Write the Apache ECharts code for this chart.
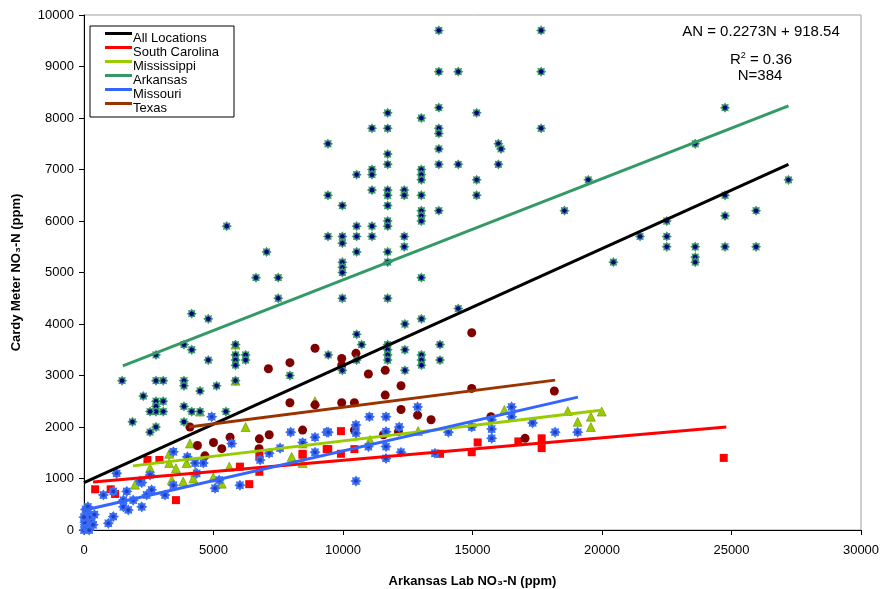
<!DOCTYPE html>
<html>
<head>
<meta charset="utf-8">
<script src="https://cdn.jsdelivr.net/npm/echarts@6/dist/echarts.min.js"></script>
<style>
  html, body { margin: 0; padding: 0; background: #fff; }
  #main { width: 883px; height: 589px; }
</style>
</head>
<body>
<div id="main"></div>
<script type="text/javascript">
    // observed points, [lab NO3-N, cardy NO3-N]
    var arkansasPts = [
        [13700, 9700], [13700, 8900], [14450, 8900], [13700, 8200], [15160, 8100], [11725, 8100],
        [11120, 7800], [11725, 7800], [13025, 8000], [9420, 7500], [13700, 7800], [13700, 7700],
        [11725, 7300], [13700, 7400], [11725, 7100], [13700, 7100], [14450, 7100], [15160, 6800],
        [15160, 6500], [10527, 6900], [11120, 7000], [11120, 6900], [11120, 6600], [11725, 6600],
        [11725, 6500], [12367, 6600], [12367, 6500], [13025, 7000], [13025, 6900], [13025, 6800],
        [13025, 6500], [13700, 6200], [9420, 6500], [9975, 6300], [11725, 6300], [11725, 6000],
        [11725, 5900], [13025, 6200], [13025, 6100], [13025, 6000], [5510, 5900], [9420, 5700],
        [9975, 5700], [9975, 5570], [10527, 5900], [10527, 5700], [11120, 5900], [11120, 5700],
        [12367, 5700], [12367, 5500], [11725, 5400], [11725, 5200], [7050, 5400], [10527, 5400],
        [9975, 5200], [9975, 5100], [9975, 5000], [6640, 4900], [7500, 4900], [13025, 4900],
        [7500, 4500], [9975, 4500], [11725, 4500], [14450, 4300],
        [17650, 9700], [17650, 8900], [17650, 7800], [16000, 7500], [16100, 7400], [16000, 7100],
        [24750, 8200], [23600, 7500], [19470, 6800], [27200, 6800], [18550, 6200], [24750, 6500],
        [24750, 6100], [25950, 6200], [22500, 6000], [21470, 5700], [22500, 5700], [22500, 5500],
        [23600, 5500], [23600, 5300], [23600, 5200], [24750, 5500], [25950, 5500], [20440, 5200],
        [4160, 4200], [4800, 4100], [2780, 3400], [3860, 3600], [4160, 3500], [4800, 3300],
        [5850, 3600], [5850, 3400], [5850, 3300], [5850, 3200], [6240, 3400], [6240, 3300],
        [5850, 2900], [1470, 2900], [2780, 2900], [3060, 2900], [3860, 2900], [3860, 2800],
        [4480, 2700], [5120, 2800], [2290, 2600], [2780, 2500], [2780, 2400], [2780, 2300],
        [3060, 2500], [2550, 2300], [3060, 2300], [3860, 2400], [4160, 2300], [4480, 2300],
        [5480, 2300], [1870, 2100], [2780, 2000], [2550, 1900], [3860, 2100], [7950, 3000],
        [12390, 4000], [13030, 4100], [10527, 3800], [10720, 3600], [9430, 3400], [11725, 3600],
        [11725, 3500], [11725, 3400], [11725, 3300], [12390, 3500], [13030, 3400], [13030, 3300],
        [13030, 3200], [13745, 3600], [13745, 3300], [10527, 3300], [9975, 3100], [12390, 3100]
    ];
    var texasPts = [
        [8920, 3530], [7950, 3250], [7120, 3130], [7950, 2470], [8920, 2430], [8440, 1940],
        [7150, 1850], [6770, 1770], [5640, 1800], [5000, 1700], [5320, 1580], [4380, 1640],
        [4670, 1440], [4090, 2000], [6760, 1580], [14970, 3830], [9950, 3330], [10500, 3430],
        [9950, 3200], [10980, 3030], [11630, 3100], [12240, 2800], [11630, 2620], [14970, 2750],
        [18160, 2700], [9950, 2470], [10440, 2470], [12240, 2340], [12880, 2230], [13400, 2140],
        [15710, 2200], [10440, 1940], [11560, 1850], [12140, 1910], [17030, 1780]
    ];
    var carolinaPts = [
        [430, 790], [1030, 790], [1200, 700], [2450, 1360], [2910, 1360], [3550, 580],
        [6020, 1230], [6380, 890], [6770, 1440], [6770, 1130], [8440, 1460], [9370, 1570],
        [9920, 1920], [9430, 1570], [9920, 1480], [10440, 1570], [8440, 1480], [13745, 1480],
        [14970, 1510], [15200, 1700], [16770, 1720], [17670, 1780], [17670, 1590], [24700, 1400]
    ];
    var mississippiPts = [
        [5850, 3600], [5850, 2900], [4480, 2300], [8920, 2500], [6240, 2000], [4090, 1680],
        [3290, 1480], [2550, 1200], [3290, 1300], [3550, 1200], [3960, 1300], [4290, 1120],
        [5610, 1230], [4990, 1020], [5320, 900], [4220, 1000], [3830, 940], [3390, 970],
        [1970, 880], [8020, 1420], [8440, 1680], [8440, 1300], [11040, 1750], [12900, 1920],
        [16230, 2330], [18680, 2310], [19060, 2100], [19570, 2200], [19570, 2000], [19990, 2300]
    ];
    var missouriPts = [
        [0, 0], [50, 100], [100, 50], [150, 200], [200, 100], [80, 300], [250, 250], [30, 150],
        [120, 350], [300, 150], [60, 400], [200, 0], [0, 250], [400, 300], [350, 100], [150, 450],
        [750, 680], [1130, 750], [1650, 750], [1520, 580], [1520, 450], [1710, 390], [2230, 450],
        [2230, 920], [2420, 680], [1900, 580], [1130, 260], [940, 130], [3130, 680], [2610, 780],
        [3450, 870], [3990, 1420], [4290, 1300], [4610, 1300], [3450, 1520], [4350, 1100],
        [5060, 810], [6020, 870], [6800, 1360], [7150, 1490], [7570, 1590], [7980, 1900],
        [8920, 1800], [9370, 1900], [4930, 2200], [5700, 1680], [5220, 970], [2550, 1070],
        [1260, 1100], [2160, 950], [11020, 2200], [11660, 2200], [12880, 2390], [16510, 2390],
        [16510, 2200], [9430, 1900], [10500, 2040], [10500, 1880], [11660, 1910], [12170, 2000],
        [14070, 1900], [14970, 2000], [15740, 2140], [15740, 1960], [15740, 1780], [17320, 2080],
        [18190, 1900], [19060, 1900], [10980, 1620], [11660, 1620], [8440, 1700], [8920, 1510],
        [11660, 1390], [12240, 1510], [13550, 1490], [10500, 950]
    ];

    // regression lines, end points
    var allLine = [[0, 918.54], [27200, 7101]];
    var carolinaLine = [[350, 930], [24800, 2000]];
    var mississippiLine = [[1890, 1245], [20040, 2330]];
    var arkansasLine = [[1500, 3185], [27200, 8235]];
    var missouriLine = [[40, 390], [19070, 2580]];
    var texasLine = [[4050, 2000], [18190, 2910]];

    var legendNames = ['All Locations', 'South Carolina', 'Mississippi', 'Arkansas', 'Missouri', 'Texas'];

    // compact 8 point star used for the Arkansas / Missouri markers
    function starPath() {
        var p = [];
        for (var i = 0; i < 16; i++) {
            var r = (i % 2) ? 3.4 : 5;
            var a = i * Math.PI / 8 - Math.PI / 2;
            p.push((5 + r * Math.cos(a)).toFixed(2) + ' ' + (5 + r * Math.sin(a)).toFixed(2));
        }
        return 'path://M' + p.join(' L') + ' Z';
    }
    var star = starPath();
    // legend swatch: bar at the top of the item, a hair-thin sliver keeps the box tall
    var swatch = 'path://M0 0 L27 0 L27 3 L0 3 Z M0 12.99 L27 12.99 L27 13 L0 13 Z';

    function pts(name, data, symbol, size, color, border, bw) {
        return {
            name: name, type: 'scatter', data: data, symbol: symbol, symbolSize: size,
            itemStyle: {color: color, borderColor: border, borderWidth: bw, opacity: 1},
            z: 2
        };
    }
    function reg(name, data, color) {
        return {
            name: name, type: 'line', data: data, symbol: 'none', color: color,
            lineStyle: {color: color, width: 3}, z: 5
        };
    }
    function plain(v) { return String(v); }

    var myChart = echarts.init(document.getElementById('main'));
    var font = 'Liberation Sans, Arial, sans-serif';
    var option = {
        animation: false,
        textStyle: {fontFamily: font},
        grid: {
            left: 84, right: 22, top: 15, bottom: 59,
            outerBoundsMode: 'none',
            show: true, borderColor: '#a0a0a0', borderWidth: 1
        },
        legend: {
            data: legendNames,
            orient: 'vertical',
            left: 90, top: 26,
            icon: swatch,
            itemWidth: 27, itemHeight: 13,
            itemGap: 1,
            padding: [6, 15, 2, 15],
            backgroundColor: '#fff',
            borderColor: '#000', borderWidth: 1,
            textStyle: {fontSize: 13, color: '#000', padding: [0, 0, 0, -4]}
        },
        xAxis: {
            type: 'value', min: 0, max: 30000, interval: 5000,
            name: 'Arkansas Lab NO\u2083-N (ppm)',
            nameLocation: 'middle', nameGap: 45, nameMoveOverlap: false,
            nameTextStyle: {fontWeight: 'bold', fontSize: 13, color: '#000'},
            axisLine: {show: true, lineStyle: {color: '#000', width: 1}},
            axisTick: {show: true, inside: false, length: 5, lineStyle: {color: '#000'}},
            axisLabel: {fontSize: 13, color: '#000', margin: 14, formatter: plain},
            splitLine: {show: false}
        },
        yAxis: {
            type: 'value', min: 0, max: 10000, interval: 1000,
            name: 'Cardy Meter NO\u2083-N (ppm)',
            nameLocation: 'middle', nameGap: 61, nameMoveOverlap: false,
            nameTextStyle: {fontWeight: 'bold', fontSize: 13, color: '#000'},
            axisLine: {show: true, lineStyle: {color: '#000', width: 1}},
            axisTick: {show: true, inside: false, length: 5, lineStyle: {color: '#000'}},
            axisLabel: {fontSize: 13, color: '#000', margin: 10, formatter: plain},
            splitLine: {show: false}
        },
        graphic: [{
            type: 'text', x: 761, y: 32, z: 10,
            style: {
                text: 'AN = 0.2273N + 918.54', fill: '#000', font: '15px ' + font,
                align: 'center', verticalAlign: 'middle'
            }
        }, {
            type: 'text', x: 761, y: 59, z: 10,
            style: {
                text: '{b|R}{s|2}{b| = 0.36}', fill: '#000', align: 'center', verticalAlign: 'middle',
                rich: {
                    b: {fontSize: 15, fontFamily: font, color: '#000', verticalAlign: 'bottom'},
                    s: {fontSize: 9, fontFamily: font, color: '#000', verticalAlign: 'top', padding: [0, 0, 7, 0]}
                }
            }
        }, {
            type: 'text', x: 760, y: 76, z: 10,
            style: {
                text: 'N=384', fill: '#000', font: '15px ' + font,
                align: 'center', verticalAlign: 'middle'
            }
        }],
        series: [
            pts('SC pts', carolinaPts, 'rect', 8, '#ff0000', '#ff0000', 0),
            pts('MS pts', mississippiPts, 'triangle', 9, '#99cc00', '#6b8f00', 0.6),
            pts('TX pts', texasPts, 'circle', 9, '#800000', '#800000', 0),
            pts('AR pts', arkansasPts, star, 8, '#000080', '#3c9a6c', 1.3),
            pts('MO pts', missouriPts, star, 8, '#1f3fbf', '#3b6ef5', 1.8),
            reg('All Locations', allLine, '#000000'),
            reg('South Carolina', carolinaLine, '#ff0000'),
            reg('Mississippi', mississippiLine, '#99cc00'),
            reg('Arkansas', arkansasLine, '#339966'),
            reg('Missouri', missouriLine, '#3366ff'),
            reg('Texas', texasLine, '#993300')
        ]
    };
    myChart.setOption(option);
</script>
</body>
</html>
